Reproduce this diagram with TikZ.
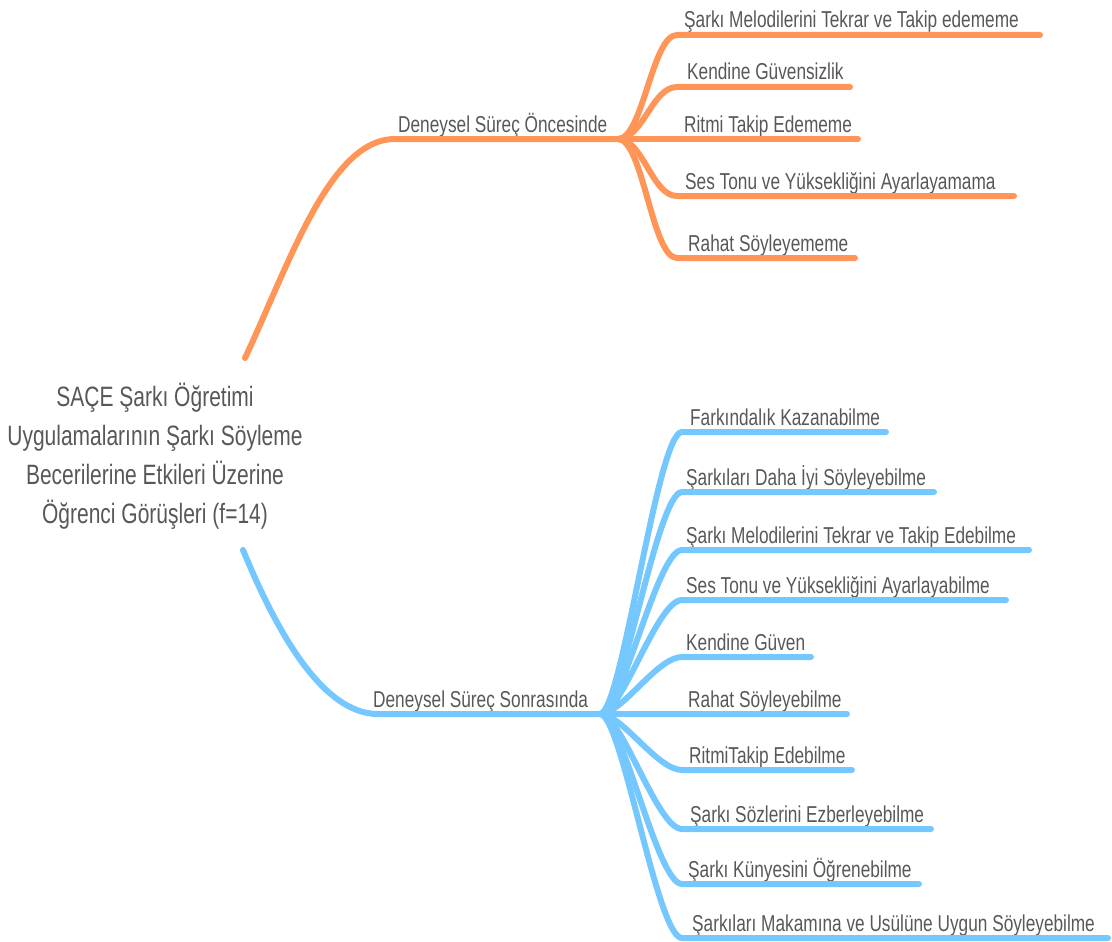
\documentclass[tikz,border=0pt]{standalone}
\usepackage{fontspec}
\setmainfont{Liberation Sans}[FakeStretch=0.75]
\definecolor{orng}{RGB}{255,150,88}
\definecolor{blu}{RGB}{117,199,255}
\definecolor{txt}{RGB}{88,88,88}
\begin{document}
\begin{tikzpicture}[x=1pt,y=-1pt,
  leaf/.style={anchor=base west, inner sep=0pt, text=txt, font=\fontsize{23}{23}\selectfont},
  obr/.style={draw=orng, line width=6pt, line cap=round},
  bbr/.style={draw=blu, line width=6pt, line cap=round}]
\useasboundingbox (0,0) rectangle (1112,942);

% root
\node[anchor=center, align=center, text=txt, inner sep=0pt,
  font=\fontsize{28}{39}\selectfont] (root) at (155,456)
  {SAÇE Şarkı Öğretimi\\Uygulamalarının Şarkı Söyleme\\Becerilerine Etkileri Üzerine\\Öğrenci Görüşleri (f=14)};
\coordinate (rootN) at (245,358);
\coordinate (rootS) at (243,550);

% hubs
\coordinate (hubA0) at (395,139);
\coordinate (hubA) at (618,139);
\coordinate (hubB0) at (378,714);
\coordinate (hubB) at (600,714);
\node[leaf] (dA) at (398,132) {Deneysel Süreç Öncesinde};
\node[leaf] (dB) at (373,707) {Deneysel Süreç Sonrasında};

\draw[obr] (rootN) .. controls (290,262) and (330,139) .. (hubA0) -- (hubA);
\draw[bbr] (rootS) .. controls (276,630) and (322,714) .. (hubB0) -- (hubB);

% orange leaves
\coordinate (a1s) at (677,35);  \coordinate (a1e) at (1040,35);
\coordinate (a2s) at (677,87);  \coordinate (a2e) at (850,87);
\coordinate (a3s) at (677,139); \coordinate (a3e) at (858,139);
\coordinate (a4s) at (677,196); \coordinate (a4e) at (1014,196);
\coordinate (a5s) at (677,258); \coordinate (a5e) at (855,258);
\node[leaf] (a1) at (684,28)  {Şarkı Melodilerini Tekrar ve Takip edememe};
\node[leaf] (a2) at (687,80)  {Kendine Güvensizlik};
\node[leaf] (a3) at (684,132) {Ritmi Takip Edememe};
\node[leaf] (a4) at (685,189) {Ses Tonu ve Yüksekliğini Ayarlayamama};
\node[leaf] (a5) at (688,251) {Rahat Söyleyememe};
\foreach \i in {1,...,5}{
  \draw[obr] (hubA) .. controls +(25,0) and +(-25,0) .. (a\i s) -- (a\i e);
}

% blue leaves
\coordinate (b1s) at (682,432);  \coordinate (b1e) at (886,432);
\coordinate (b2s) at (682,492);  \coordinate (b2e) at (934,492);
\coordinate (b3s) at (682,550);  \coordinate (b3e) at (1029,550);
\coordinate (b4s) at (682,600);  \coordinate (b4e) at (1006,600);
\coordinate (b5s) at (682,657);  \coordinate (b5e) at (811,657);
\coordinate (b6s) at (682,714);  \coordinate (b6e) at (847,714);
\coordinate (b7s) at (682,770);  \coordinate (b7e) at (852,770);
\coordinate (b8s) at (682,829);  \coordinate (b8e) at (931,829);
\coordinate (b9s) at (682,884);  \coordinate (b9e) at (919,884);
\coordinate (b10s) at (682,938); \coordinate (b10e) at (1108,938);
\node[leaf] (b1) at (690,425)  {Farkındalık Kazanabilme};
\node[leaf] (b2) at (686,485)  {Şarkıları Daha İyi Söyleyebilme};
\node[leaf] (b3) at (686,543)  {Şarkı Melodilerini Tekrar ve Takip Edebilme};
\node[leaf] (b4) at (686,593)  {Ses Tonu ve Yüksekliğini Ayarlayabilme};
\node[leaf] (b5) at (686,650)  {Kendine Güven};
\node[leaf] (b6) at (688,707)  {Rahat Söyleyebilme};
\node[leaf] (b7) at (689,763)  {RitmiTakip Edebilme};
\node[leaf] (b8) at (690,822)  {Şarkı Sözlerini Ezberleyebilme};
\node[leaf] (b9) at (688,877)  {Şarkı Künyesini Öğrenebilme};
\node[leaf] (b10) at (692,931) {Şarkıları Makamına ve Usülüne Uygun Söyleyebilme};
\foreach \i in {1,...,10}{
  \draw[bbr] (hubB) .. controls +(22,0) and +(-25,0) .. (b\i s) -- (b\i e);
}
\end{tikzpicture}
\end{document}
